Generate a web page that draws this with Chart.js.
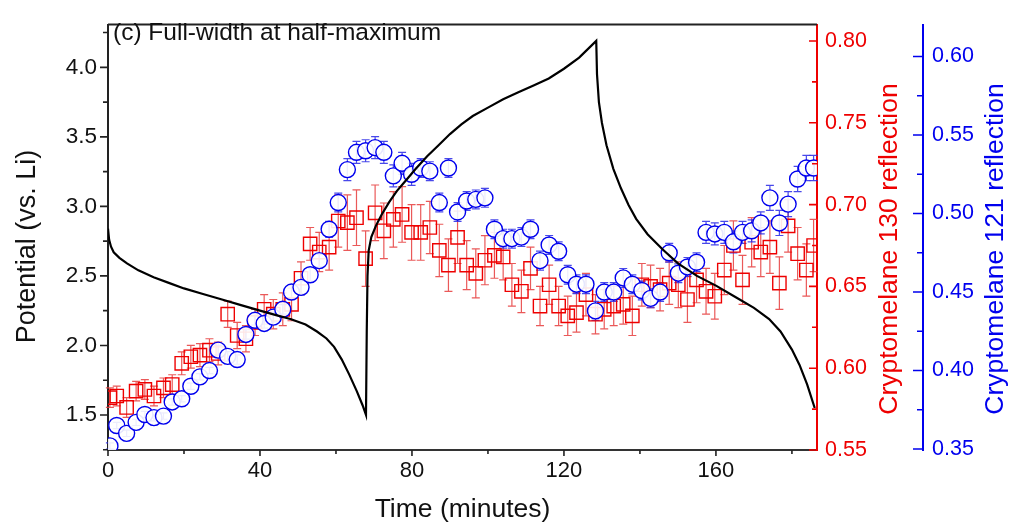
<!DOCTYPE html>
<html><head><meta charset="utf-8">
<script src="https://cdn.jsdelivr.net/npm/chart.js@4.4.0/dist/chart.umd.min.js"></script>
<style>html,body{margin:0;padding:0;background:#fff;}canvas{display:block;}</style>
</head><body>
<canvas id="c" width="1010" height="527"></canvas>
<script>
// ---- data ----
const sampleTime = [0.5,2.3,4.9,7.4,9.7,12.1,14.6,16.9,19.4,21.8,24.2,26.7,29.0,31.5,34.0,36.3,38.7,41.1,43.5,46.0,48.3,50.8,53.2,55.6,58.2,60.6,63.0,65.4,67.8,70.3,72.6,75.1,77.4,79.9,82.3,84.7,87.2,89.6,92.0,94.4,96.8,99.2,101.7,104.0,106.3,108.8,111.2,113.7,116.1,118.6,121.0,123.3,125.8,128.3,130.6,133.1,135.6,138.0,140.5,142.8,145.3,147.7,150.1,152.5,154.9,157.4,159.7,162.2,164.6,167.0,169.4,171.8,174.2,176.7,179.0,181.5,183.8,185.7];
const fwhm130 = [0.582,0.583,0.576,0.586,0.587,0.583,0.588,0.590,0.603,0.607,
  0.608,0.611,0.609,0.633,0.620,0.618,0.628,0.636,0.633,0.636,
  0.639,0.655,0.676,0.671,0.674,0.690,0.689,0.692,0.667,0.695,
  0.684,0.691,0.694,0.683,0.683,0.686,0.672,0.663,0.680,0.663,
  0.658,0.666,0.669,0.668,0.651,0.647,0.661,0.638,0.651,0.638,
  0.632,0.634,0.645,0.633,0.636,0.638,0.639,0.632,0.651,0.650,
  0.648,0.652,0.651,0.642,0.654,0.647,0.644,0.660,0.675,0.654,
  0.677,0.671,0.674,0.652,0.687,0.670,0.660,0.675];
const fwhm130Err = [0.006,0.006,0.006,0.006,0.006,0.006,0.006,0.006,0.007,0.007,
  0.007,0.007,0.007,0.008,0.008,0.008,0.008,0.009,0.009,0.010,
  0.010,0.010,0.010,0.012,0.014,0.016,0.017,0.017,0.017,0.017,
  0.017,0.017,0.017,0.017,0.017,0.016,0.016,0.016,0.016,0.015,
  0.015,0.015,0.014,0.014,0.013,0.013,0.013,0.012,0.012,0.012,
  0.012,0.012,0.013,0.012,0.012,0.012,0.012,0.012,0.013,0.013,
  0.013,0.013,0.014,0.014,0.014,0.014,0.014,0.015,0.015,0.015,
  0.015,0.015,0.016,0.016,0.016,0.016,0.016,0.016];
const fwhm121 = [0.352,0.365,0.360,0.367,0.372,0.370,0.371,0.380,0.382,0.390,
  0.396,0.400,0.413,0.409,0.407,0.423,0.432,0.430,0.434,0.439,
  0.450,0.453,0.461,0.470,0.490,0.507,0.528,0.539,0.540,0.542,
  0.539,0.524,0.532,0.525,0.529,0.527,0.507,0.529,0.501,0.508,
  0.509,0.510,0.490,0.484,0.484,0.485,0.490,0.470,0.480,0.476,
  0.461,0.455,0.455,0.438,0.450,0.450,0.459,0.455,0.451,0.446,
  0.450,0.475,0.462,0.466,0.469,0.488,0.487,0.488,0.482,0.488,
  0.489,0.494,0.510,0.494,0.506,0.522,0.529,0.529];
const fwhm121Err = [0.002,0.002,0.002,0.002,0.002,0.002,0.002,0.002,0.002,0.002,
  0.002,0.002,0.003,0.003,0.003,0.003,0.003,0.003,0.003,0.003,
  0.004,0.004,0.004,0.004,0.005,0.006,0.007,0.007,0.007,0.007,
  0.007,0.007,0.007,0.007,0.006,0.006,0.006,0.006,0.006,0.006,
  0.006,0.006,0.006,0.006,0.006,0.006,0.006,0.006,0.006,0.006,
  0.006,0.006,0.006,0.006,0.006,0.006,0.006,0.006,0.006,0.006,
  0.006,0.006,0.006,0.006,0.006,0.007,0.007,0.007,0.007,0.007,
  0.007,0.007,0.008,0.008,0.008,0.008,0.008,0.008];
const potTime = [0.0,0.3,0.8,1.5,3.0,5.0,8.0,12.0,16.0,20.0,25.0,30.0,35.0,40.0,44.0,48.0,52.0,55.0,57.5,59.5,61.5,63.5,65.5,67.0,67.9,
  68.1,68.3,68.6,69.3,70.5,72.0,74.0,76.0,78.5,81.0,84.0,87.0,90.0,93.0,96.0,100.0,104.0,108.0,112.0,116.0,120.0,124.0,128.5,
  128.7,129.2,130.0,131.2,133.0,135.0,137.0,139.0,142.0,146.0,150.0,155.0,160.0,165.0,170.0,174.0,177.0,180.0,182.0,184.0,186.0];
const potValue = [2.84,2.76,2.71,2.67,2.63,2.59,2.54,2.49,2.45,2.41,2.37,2.33,2.29,2.25,2.22,2.19,2.15,2.10,2.05,1.99,1.90,1.79,1.67,1.57,1.50,
  2.10,2.50,2.68,2.78,2.86,2.94,3.03,3.11,3.19,3.27,3.36,3.44,3.52,3.59,3.65,3.71,3.77,3.82,3.87,3.92,3.99,4.07,4.19,
  3.95,3.75,3.60,3.44,3.27,3.13,3.01,2.91,2.80,2.69,2.59,2.50,2.43,2.35,2.27,2.19,2.10,1.97,1.86,1.72,1.55];
const xMajorTicks = [0,40,80,120,160];
const xMinorTicks = [20,60,100,140,180];
const potMajorTicks = [1.5,2.0,2.5,3.0,3.5,4.0];
const potMinorTicks = [1.25,1.75,2.25,2.75,3.25,3.75,4.25];
const redMajorTicks = [0.55,0.60,0.65,0.70,0.75,0.80];
const redMinorTicks = [0.575,0.625,0.675,0.725,0.775];
const blueMajorTicks = [0.35,0.40,0.45,0.50,0.55,0.60];
const blueMinorTicks = [0.375,0.425,0.475,0.525,0.575];
const panelLabel = '(c) Full-width at half-maximum';
const xTitle = 'Time (minutes)';
const potTitle = 'Potential (vs. Li)';
const redTitle = 'Cryptomelane 130 reflection';
const blueTitle = 'Cryptomelane 121 reflection';

// ---- styling ----
const F = "'Liberation Sans', Arial, sans-serif";
const RED = '#ee0000', BLUE = '#0000ee', AX = '#222';

const potData = potTime.map((t,i)=>({x:t,y:potValue[i]}));
const redData = sampleTime.map((t,i)=>({x:t,y:fwhm130[i]}));
const blueData = sampleTime.map((t,i)=>({x:t,y:fwhm121[i]}));

const decor = {
  id:'decor',
  beforeDatasetsDraw(chart){
    const ctx = chart.ctx, xs = chart.scales.x;
    const bars = (vals, errs, sc, color) => {
      ctx.save(); ctx.strokeStyle = color; ctx.lineWidth = 1.2;
      sampleTime.forEach((t,i)=>{
        const x = xs.getPixelForValue(t);
        const y1 = sc.getPixelForValue(vals[i]-errs[i]);
        const y2 = sc.getPixelForValue(vals[i]+errs[i]);
        ctx.beginPath();
        ctx.moveTo(x,y1); ctx.lineTo(x,y2);
        ctx.moveTo(x-4,y1); ctx.lineTo(x+4,y1);
        ctx.moveTo(x-4,y2); ctx.lineTo(x+4,y2);
        ctx.stroke();
      });
      ctx.restore();
    };
    bars(fwhm130, fwhm130Err, chart.scales.yRed, 'rgba(230,60,60,0.85)');
    bars(fwhm121, fwhm121Err, chart.scales.yBlue, 'rgba(40,40,230,0.85)');
  },
  afterDraw(chart){
    const ctx = chart.ctx, ca = chart.chartArea;
    const {x, y, yRed, yBlue} = chart.scales;
    ctx.save();
    ctx.strokeStyle = AX; ctx.lineWidth = 2;
    ctx.beginPath(); ctx.moveTo(ca.left, ca.top); ctx.lineTo(ca.right, ca.top); ctx.stroke();
    const vt = (sc, vals, x0, len, color) => {
      ctx.strokeStyle = color; ctx.lineWidth = 1.6; ctx.beginPath();
      vals.forEach(v=>{ const p = sc.getPixelForValue(v); if (p < ca.top-0.5 || p > ca.bottom+0.5) return; ctx.moveTo(x0,p); ctx.lineTo(x0+len,p); });
      ctx.stroke();
    };
    vt(y, potMajorTicks, ca.left, -8, AX);
    vt(y, potMinorTicks, ca.left, -5, AX);
    vt(yRed, redMajorTicks, yRed.left, -8, RED);
    vt(yRed, redMinorTicks, yRed.left, -5, RED);
    vt(yBlue, blueMajorTicks, yBlue.left, -10, BLUE);
    vt(yBlue, blueMinorTicks, yBlue.left, -6, BLUE);
    ctx.strokeStyle = AX; ctx.lineWidth = 1.6; ctx.beginPath();
    xMajorTicks.forEach(v=>{ const p = x.getPixelForValue(v); ctx.moveTo(p,ca.bottom); ctx.lineTo(p,ca.bottom+6); });
    xMinorTicks.forEach(v=>{ const p = x.getPixelForValue(v); ctx.moveTo(p,ca.bottom); ctx.lineTo(p,ca.bottom+4); });
    ctx.stroke();
    const vtitle = (text, bx, cy, size, color) => {
      ctx.save(); ctx.translate(bx, cy); ctx.rotate(-Math.PI/2);
      ctx.font = size + 'px ' + F; ctx.fillStyle = color; ctx.textAlign = 'center'; ctx.textBaseline = 'alphabetic';
      ctx.fillText(text, 0, 0); ctx.restore();
    };
    vtitle(potTitle, 35, 246.5, 27, '#111');
    vtitle(redTitle, 897, 249, 26.5, RED);
    vtitle(blueTitle, 1003, 249, 26.5, BLUE);
    ctx.font = '24.5px ' + F; ctx.fillStyle = '#111'; ctx.textAlign = 'left'; ctx.textBaseline = 'alphabetic';
    ctx.fillText(panelLabel, 113, 40);
    ctx.restore();
  }
};

const setTicks = arr => s => { s.ticks = arr.map(v=>({value:v})); };

new Chart(document.getElementById('c'), {
  type: 'scatter',
  data: { datasets: [
    { type:'line', label:'Potential', data: potData, xAxisID:'x', yAxisID:'y', borderColor:'#000', borderWidth:2.2,
      pointRadius:0, tension:0, fill:false, order:0 },
    { label:'121', data: blueData, xAxisID:'x', yAxisID:'yBlue', pointStyle:'circle', pointRadius:8,
      borderColor:BLUE, backgroundColor:'rgba(255,255,255,0.9)', pointBorderWidth:1.4, order:1 },
    { label:'130', data: redData, xAxisID:'x', yAxisID:'yRed', pointStyle:'rect', pointRadius:9.4,
      borderColor:RED, backgroundColor:'rgba(255,255,255,0)', pointBorderWidth:1.4, order:2 }
  ]},
  options: {
    responsive:false, animation:false, devicePixelRatio:1,
    layout:{ padding:{top:13,left:0,right:0,bottom:0}, autoPadding:false },
    plugins:{ legend:{display:false}, tooltip:{enabled:false} },
    scales:{
      x:{ type:'linear', position:'bottom', min:0, max:186.6,
        grid:{display:false, drawTicks:false}, border:{display:true, color:'#333', width:2},
        ticks:{ font:{family:F,size:22}, color:'#111', padding:8, autoSkip:false, maxRotation:0, callback:v=>String(v) },
        title:{ display:true, text:xTitle, font:{family:F,size:26.5}, color:'#111', padding:{top:0,bottom:1} },
        afterBuildTicks: setTicks(xMajorTicks), afterFit: s=>{ s.height = 77; } },
      y:{ type:'linear', position:'left', min:1.248, max:4.308,
        grid:{display:false, drawTicks:false}, border:{display:true, color:AX, width:2},
        ticks:{ font:{family:F,size:22.5}, color:'#111', padding:11, autoSkip:false, callback:v=>v.toFixed(1) },
        afterBuildTicks: setTicks(potMajorTicks), afterFit: s=>{ s.width = 108; } },
      yRed:{ type:'linear', position:'right', min:0.55, max:0.8101,
        grid:{display:false, drawTicks:false}, border:{display:true, color:RED, width:2},
        ticks:{ font:{family:F,size:21.5}, color:RED, padding:8, autoSkip:false, callback:v=>v.toFixed(2) },
        afterBuildTicks: setTicks(redMajorTicks), afterFit: s=>{ s.width = 106; } },
      yBlue:{ type:'linear', position:'right', min:0.3494, max:0.6204,
        grid:{display:false, drawTicks:false}, border:{display:true, color:BLUE, width:2},
        ticks:{ font:{family:F,size:21.5}, color:BLUE, padding:9, autoSkip:false, callback:v=>v.toFixed(2) },
        afterBuildTicks: setTicks(blueMajorTicks), afterFit: s=>{ s.width = 87; } }
    }
  },
  plugins:[decor]
});
</script>
</body></html>
